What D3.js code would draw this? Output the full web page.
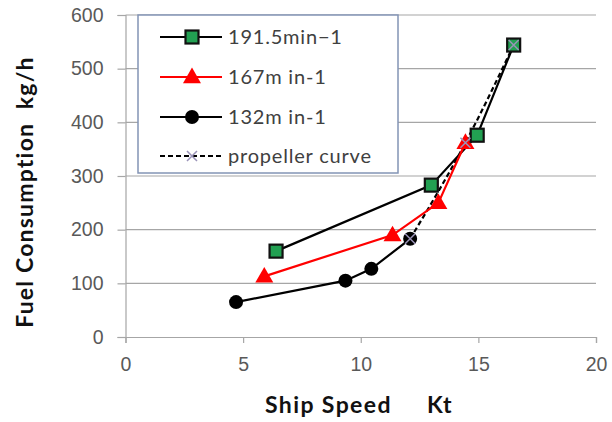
<!DOCTYPE html>
<html>
<head>
<meta charset="utf-8">
<script src="https://cdn.jsdelivr.net/npm/d3@7"></script>
<style>
  body { margin: 0; background: #fff; }
  svg { font-family: Lato, "Open Sans", sans-serif; }
</style>
</head>
<body>
<div id="chart"></div>
<script>
// values
const xTicks = [0, 5, 10, 15, 20];
const yTicks = [0, 100, 200, 300, 400, 500, 600];

const rpm191Speed = [6.4, 13.0, 14.95, 16.5];
const rpm191Fuel  = [160, 283, 376, 544];

const rpm167Speed = [5.9, 11.35, 13.3, 14.45];
const rpm167Fuel  = [113, 190, 250, 362];

const rpm132Speed = [4.7, 9.35, 10.45, 12.1];
const rpm132Fuel  = [65, 105, 127, 183];

const propSpeed = [12.1, 14.45, 16.5];
const propFuel  = [183, 362, 544];

const legendLabels = ['191.5min\u22121', '167m in-1', '132m in-1', 'propeller curve'];

const zip = (xs, ys) => xs.map((x, i) => ({speed: x, fuel: ys[i]}));

const W = 612, H = 422;
const margin = {top: 15, right: 16, bottom: 85, left: 125.5};
const width = W - margin.left - margin.right,
      height = H - margin.top - margin.bottom;

const svg = d3.select('#chart').append('svg')
    .attr('width', W)
    .attr('height', H);

const g = svg.append('g')
    .attr('transform', `translate(${margin.left}, ${margin.top})`);

const xScale = d3.scaleLinear().domain([0, 20]).range([0, width]);
const yScale = d3.scaleLinear().domain([0, 600]).range([height, 0]);

// grid
g.selectAll('.grid').data(yTicks.slice(1)).join('line')
    .attr('x1', 0).attr('x2', width)
    .attr('y1', d => yScale(d)).attr('y2', d => yScale(d))
    .attr('stroke', '#a6a6a6').attr('stroke-width', 1.2);

// axes
const xAxis = g.append('g')
    .attr('transform', `translate(0, ${height})`)
    .call(d3.axisBottom(xScale).tickValues(xTicks).tickSize(6).tickPadding(14));
const yAxis = g.append('g')
    .call(d3.axisLeft(yScale).tickValues(yTicks).tickSize(8).tickPadding(14));

[xAxis, yAxis].forEach(a => {
  a.select('.domain').attr('stroke', '#a6a6a6').attr('stroke-width', 1.2);
  a.selectAll('.tick line').attr('stroke', '#a6a6a6').attr('stroke-width', 1.2);
  a.selectAll('.tick text').attr('fill', '#595959').style('font-size', '19.5px');
});

const line = d3.line()
    .x(d => xScale(d.speed))
    .y(d => yScale(d.fuel));

// propeller curve
g.append('path')
    .datum(zip(propSpeed, propFuel))
    .attr('fill', 'none')
    .attr('stroke', '#000')
    .attr('stroke-width', 2.2)
    .attr('stroke-dasharray', '5,3')
    .attr('d', line.curve(d3.curveMonotoneX));
line.curve(d3.curveLinear);

// 191.5
g.append('path')
    .datum(zip(rpm191Speed, rpm191Fuel))
    .attr('fill', 'none').attr('stroke', '#000').attr('stroke-width', 2.2)
    .attr('d', line);

// 167
g.append('path')
    .datum(zip(rpm167Speed, rpm167Fuel))
    .attr('fill', 'none').attr('stroke', '#ff0000').attr('stroke-width', 2.2)
    .attr('d', line);

// 132
g.append('path')
    .datum(zip(rpm132Speed, rpm132Fuel))
    .attr('fill', 'none').attr('stroke', '#000').attr('stroke-width', 2.2)
    .attr('d', line);

const square = (sel, x, y) => sel.append('rect')
    .attr('x', x - 6.5).attr('y', y - 6.5).attr('width', 13).attr('height', 13)
    .attr('fill', '#22a052').attr('stroke', '#111').attr('stroke-width', 2.2);
const triangle = (sel, x, y) => sel.append('path')
    .attr('d', d3.symbol(d3.symbolTriangle, 140)())
    .attr('transform', `translate(${x}, ${y + 1})`)
    .attr('fill', '#ff0000');
const circle = (sel, x, y) => sel.append('circle')
    .attr('cx', x).attr('cy', y).attr('r', 7).attr('fill', '#000');
const cross = (sel, x, y) => sel.append('path')
    .attr('d', `M${x - 5},${y - 5}L${x + 5},${y + 5}M${x - 5},${y + 5}L${x + 5},${y - 5}`)
    .attr('stroke', '#9a93b8').attr('stroke-width', 1.5);

zip(rpm132Speed, rpm132Fuel).forEach(d => circle(g, xScale(d.speed), yScale(d.fuel)));
zip(rpm167Speed, rpm167Fuel).forEach(d => triangle(g, xScale(d.speed), yScale(d.fuel)));
zip(rpm191Speed, rpm191Fuel).forEach(d => square(g, xScale(d.speed), yScale(d.fuel)));
zip(propSpeed, propFuel).forEach(d => cross(g, xScale(d.speed), yScale(d.fuel)));

// legend
const legend = svg.append('g').attr('transform', 'translate(138, 15)');
legend.append('rect')
    .attr('width', 260).attr('height', 158)
    .attr('fill', '#fff').attr('stroke', '#8394b5').attr('stroke-width', 1.5);

const rowY = [22, 62, 102, 141];
legendLabels.forEach((label, i) => {
  const row = legend.append('g').attr('transform', `translate(0, ${rowY[i]})`);
  const ln = row.append('line')
      .attr('x1', 22).attr('x2', 84).attr('y1', 0).attr('y2', 0)
      .attr('stroke', i === 1 ? '#ff0000' : '#000').attr('stroke-width', 2.2);
  if (i === 3) ln.attr('stroke-dasharray', '5,3');
  if (i === 0) square(row, 54, 0);
  if (i === 1) triangle(row, 54, 0);
  if (i === 2) circle(row, 54, 0);
  if (i === 3) cross(row, 54, 0);
  row.append('text')
      .attr('x', 90).attr('y', 0).attr('dy', '0.35em')
      .attr('fill', '#404040').style('font-size', '20px')
      .style('letter-spacing', '0.8px')
      .text(label);
});

// axis titles
svg.append('text')
    .attr('x', 359).attr('y', 413)
    .attr('text-anchor', 'middle')
    .attr('fill', '#111').style('font-size', '23px').style('font-weight', 'bold')
    .style('letter-spacing', '1.4px')
    .attr('xml:space', 'preserve')
    .text('Ship Speed     Kt');

svg.append('text')
    .attr('transform', 'translate(33, 192) rotate(-90)')
    .attr('text-anchor', 'middle')
    .attr('fill', '#111').style('font-size', '23px').style('font-weight', 'bold')
    .style('letter-spacing', '1.2px')
    .attr('xml:space', 'preserve')
    .text('Fuel Consumption  kg/h');
</script>
</body>
</html>
